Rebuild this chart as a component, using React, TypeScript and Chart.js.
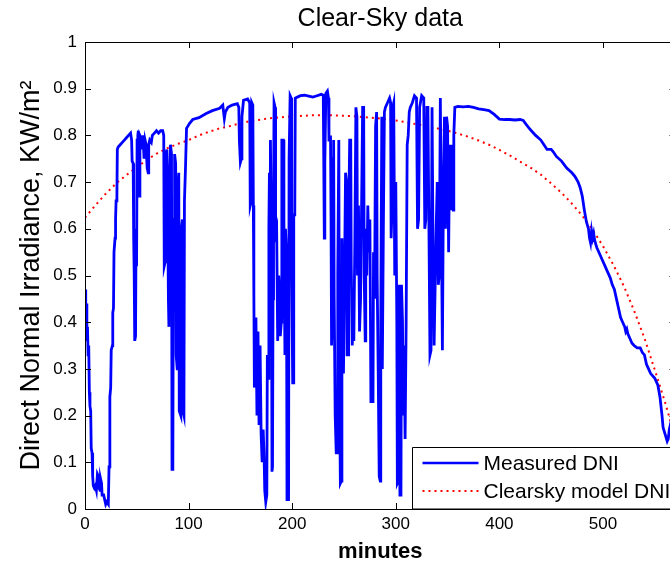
import React, { useEffect, useRef } from 'react';
import { Chart, registerables } from 'chart.js';

Chart.register(...registerables);

const chartTitle = 'Clear-Sky data';
const xAxisLabel = 'minutes';
const yAxisLabel = 'Direct Normal Irradiance, KW/m\u00B2';
const seriesNames = ['Measured DNI', 'Clearsky model DNI'];
const xRange = [0, 570];
const yRange = [0, 1];
const xTickStep = 100;
const yTickStep = 0.1;

const modelMinutes = [0, 10, 20, 30, 40, 50, 60, 70, 80, 90, 100, 110, 120, 130, 140, 150, 160, 170, 180, 190, 200, 210, 220, 230, 240, 250, 260, 270, 280, 290, 300, 310, 320, 330, 340, 350, 360, 370, 380, 390, 400, 410, 420, 430, 440, 450, 460, 470, 480, 490, 500, 510, 520, 530, 540, 550, 560, 570, 580, 590];
const modelValues = [0.624, 0.65, 0.675, 0.697, 0.715, 0.732, 0.748, 0.762, 0.773, 0.782, 0.79, 0.8, 0.808, 0.815, 0.82, 0.826, 0.831, 0.834, 0.837, 0.839, 0.841, 0.842, 0.843, 0.843, 0.843, 0.842, 0.841, 0.839, 0.837, 0.835, 0.832, 0.828, 0.824, 0.82, 0.815, 0.81, 0.804, 0.797, 0.789, 0.78, 0.769, 0.757, 0.744, 0.731, 0.716, 0.697, 0.677, 0.654, 0.628, 0.598, 0.563, 0.523, 0.478, 0.425, 0.366, 0.298, 0.228, 0.15, 0.07, 0.0];

const measuredMinutes = [
  0, 0.7, 1.2, 1.8, 2.4, 3, 3.6, 4.2, 4.8, 5.5, 6, 6.8, 7.4, 8, 9, 10, 11, 12, 13, 13.5, 14.5, 15, 16, 16.5, 18, 19, 20, 21, 22.5, 23.2,
  24, 24.8, 25.3, 26.4, 26.8, 27.5, 28, 29, 29.5, 30, 30.8, 31.2, 32, 34, 36, 38, 40, 42, 44, 45, 45.5, 46.5, 47, 47.5, 48, 48.8, 49.3, 49.8, 50.3, 51,
  51.5, 52.5, 53, 54, 55, 56, 57, 58, 59, 60, 61, 61.5, 62.5, 64, 65, 67, 69, 71, 73, 75, 76, 76.5, 77.5, 78, 79, 80, 80.5, 81, 81.5, 82.5,
  83.5, 84, 84.8, 85.3, 86, 86.5, 87.5, 88, 89, 89.5, 90.5, 91, 92.5, 93, 94, 94.5, 95.5, 96, 97, 98, 101, 104, 110, 117, 123, 130, 133, 134.5, 135.5, 138,
  142, 147, 148.5, 149, 150, 151, 151.5, 153, 157, 159, 159.5, 160.5, 161, 162, 162.5, 163, 163.5, 164.5, 165, 166, 167, 168, 169, 170, 171, 172, 173, 173.5, 174.5, 175.5,
  176, 177, 177.5, 178, 178.5, 179, 180, 180.5, 181, 181.5, 182, 182.5, 183.5, 184, 185, 186, 187, 188, 188.5, 189.5, 190, 191.5, 192, 193, 193.5, 194.5, 195, 196.5, 197, 198,
  199, 199.5, 200.5, 201, 201.5, 202.5, 203, 205, 208, 212, 216, 220, 224, 228, 230, 230.5, 231, 231.5, 232.5, 234, 235, 235.5, 236.5, 237, 237.5, 238, 239, 239.5, 240, 240.5,
  241.5, 242.5, 243.5, 244, 245, 245.5, 246.5, 247.5, 248, 249, 249.5, 250.5, 251.5, 252.5, 253, 254, 254.5, 255.5, 256.5, 257, 258, 259, 259.5, 260.5, 261.5, 262.5, 263, 264, 265, 266,
  267, 268, 269, 269.5, 270.5, 271, 272, 273, 274, 275, 276, 278, 278.5, 279.5, 280.5, 281.5, 282, 283, 284, 285, 285.5, 286.5, 287, 288, 289, 290, 292, 294, 295, 295.5,
  296.5, 297, 298, 299, 300, 301, 301.5, 302.5, 303, 304, 305, 305.5, 306.5, 307, 308, 309, 310, 311, 312, 313, 314, 316, 318, 320, 321, 322, 323, 325, 327, 328,
  329, 330, 331, 332, 333, 334, 335, 336, 337, 338, 339, 340, 341, 342, 343, 344, 345, 346, 347, 348, 349, 350, 351, 352, 353, 354, 355, 355.5, 356, 357,
  360, 365, 370, 375, 380, 385, 390, 395, 400, 405, 410, 415, 420, 423, 426, 430, 435, 440, 443, 446, 450, 452, 455, 460, 465, 470, 473, 476, 478, 480,
  482, 484, 486, 487, 488, 489, 490, 491, 492, 494, 497, 500, 502, 504, 507, 509, 511, 513, 515, 517, 519, 521, 522, 523, 524, 526, 528, 530, 533, 536,
  538, 540, 542, 544, 546, 548, 550, 553, 555, 557, 558, 560, 562, 563, 564, 565, 567, 570
];
const measuredValues = [
  0.47, 0.40, 0.44, 0.36, 0.39, 0.33, 0.35, 0.25, 0.22, 0.21, 0.13, 0.12, 0.07, 0.05, 0.045, 0.05, 0.04, 0.075, 0.07, 0.045, 0.04, 0.065, 0.055, 0.03, 0.03, 0.02, 0.01, 0.015, 0.01, 0.09,
  0.24, 0.26, 0.34, 0.35, 0.42, 0.43, 0.55, 0.58, 0.62, 0.66, 0.67, 0.77, 0.775, 0.78, 0.785, 0.79, 0.795, 0.80, 0.805, 0.79, 0.745, 0.74, 0.58, 0.50, 0.36, 0.37, 0.60, 0.52, 0.79, 0.80,
  0.81, 0.67, 0.80, 0.795, 0.77, 0.80, 0.75, 0.79, 0.78, 0.73, 0.72, 0.78, 0.79, 0.785, 0.80, 0.805, 0.81, 0.805, 0.81, 0.81, 0.80, 0.52, 0.53, 0.75, 0.77, 0.60, 0.45, 0.39, 0.70, 0.78,
  0.76, 0.085, 0.09, 0.55, 0.62, 0.76, 0.74, 0.33, 0.30, 0.68, 0.72, 0.21, 0.20, 0.60, 0.62, 0.21, 0.20, 0.66, 0.73, 0.815, 0.826, 0.834, 0.838, 0.847, 0.853, 0.858, 0.865, 0.836, 0.85, 0.86,
  0.865, 0.868, 0.86, 0.79, 0.742, 0.75, 0.84, 0.875, 0.878, 0.87, 0.65, 0.66, 0.87, 0.865, 0.65, 0.46, 0.26, 0.30, 0.41, 0.20, 0.38, 0.18, 0.35, 0.16, 0.10, 0.17, 0.10, 0.04, 0.015, 0.03,
  0.33, 0.28, 0.60, 0.72, 0.40, 0.79, 0.55, 0.08, 0.09, 0.45, 0.65, 0.87, 0.86, 0.59, 0.60, 0.36, 0.50, 0.46, 0.37, 0.40, 0.79, 0.79, 0.62, 0.33, 0.60, 0.55, 0.02, 0.02, 0.75, 0.885,
  0.88, 0.50, 0.27, 0.27, 0.63, 0.63, 0.88, 0.882, 0.885, 0.886, 0.884, 0.882, 0.885, 0.888, 0.886, 0.74, 0.58, 0.74, 0.89, 0.895, 0.88, 0.79, 0.79, 0.80, 0.62, 0.35, 0.46, 0.75, 0.79, 0.46,
  0.20, 0.12, 0.12, 0.50, 0.79, 0.30, 0.055, 0.06, 0.58, 0.36, 0.29, 0.50, 0.72, 0.70, 0.33, 0.33, 0.62, 0.79, 0.79, 0.52, 0.35, 0.45, 0.36, 0.58, 0.86, 0.84, 0.50, 0.65, 0.38, 0.45,
  0.65, 0.86, 0.86, 0.50, 0.36, 0.60, 0.50, 0.65, 0.55, 0.62, 0.23, 0.23, 0.55, 0.45, 0.82, 0.85, 0.50, 0.30, 0.07, 0.06, 0.40, 0.84, 0.30, 0.60, 0.85, 0.86, 0.87, 0.88, 0.87, 0.58,
  0.65, 0.86, 0.87, 0.50, 0.70, 0.40, 0.055, 0.06, 0.48, 0.03, 0.03, 0.48, 0.40, 0.20, 0.35, 0.15, 0.40, 0.78, 0.80, 0.85, 0.86, 0.87, 0.885, 0.88, 0.60, 0.62, 0.86, 0.885, 0.88, 0.60,
  0.62, 0.86, 0.86, 0.60, 0.33, 0.34, 0.86, 0.55, 0.35, 0.48, 0.60, 0.70, 0.48, 0.50, 0.88, 0.60, 0.34, 0.70, 0.84, 0.60, 0.84, 0.82, 0.55, 0.78, 0.64, 0.78, 0.65, 0.64, 0.80, 0.86,
  0.862, 0.861, 0.862, 0.86, 0.857, 0.855, 0.853, 0.845, 0.835, 0.834, 0.834, 0.833, 0.834, 0.832, 0.823, 0.812, 0.80, 0.79, 0.78, 0.77, 0.77, 0.765, 0.755, 0.745, 0.73, 0.72, 0.712, 0.70, 0.688, 0.67,
  0.64, 0.615, 0.60, 0.58, 0.57, 0.595, 0.58, 0.59, 0.575, 0.56, 0.545, 0.53, 0.52, 0.51, 0.495, 0.48, 0.47, 0.45, 0.43, 0.41, 0.40, 0.39, 0.38, 0.385, 0.375, 0.365, 0.355, 0.35, 0.345, 0.345,
  0.335, 0.33, 0.31, 0.30, 0.29, 0.285, 0.28, 0.265, 0.24, 0.20, 0.175, 0.16, 0.145, 0.15, 0.17, 0.18, 0.15, 0.12
];

const FONT = '"Liberation Sans", Arial, Helvetica, sans-serif';
const CANVAS_W = 700;
const CANVAS_H = 567;

const matlabFrame = {
  id: 'matlabFrame',
  afterDatasetsDraw(chart: any) {
    const { ctx, chartArea, scales } = chart;
    const { left, right, top, bottom } = chartArea;
    ctx.save();
    ctx.strokeStyle = '#000';
    ctx.lineWidth = 1;
    ctx.beginPath();
    ctx.rect(Math.round(left) + 0.5, Math.round(top) + 0.5, Math.round(right - left), Math.round(bottom - top));
    ctx.stroke();
    const tl = 6;
    ctx.beginPath();
    scales.x.ticks.forEach((t: any) => {
      const px = Math.round(scales.x.getPixelForValue(t.value)) + 0.5;
      ctx.moveTo(px, bottom);
      ctx.lineTo(px, bottom - tl);
      ctx.moveTo(px, top);
      ctx.lineTo(px, top + tl);
    });
    scales.y.ticks.forEach((t: any) => {
      const py = Math.round(scales.y.getPixelForValue(t.value)) + 0.5;
      ctx.moveTo(left, py);
      ctx.lineTo(left + tl, py);
      ctx.moveTo(right, py);
      ctx.lineTo(right - tl, py);
    });
    ctx.stroke();

    // legend (SouthEast)
    const lgLeft = Math.round(left + (right - left) * 0.554) + 0.5;
    const lgTop = Math.round(bottom - 62) + 0.5;
    const lgRight = right + 10;
    ctx.fillStyle = '#fff';
    ctx.fillRect(lgLeft, lgTop, lgRight - lgLeft, bottom - lgTop);
    ctx.beginPath();
    ctx.rect(lgLeft, lgTop, lgRight - lgLeft, bottom - lgTop);
    ctx.stroke();
    const sx0 = lgLeft + 10;
    const sx1 = lgLeft + 66;
    const row1 = lgTop + 15.5;
    const row2 = lgTop + 43.5;
    ctx.strokeStyle = '#0000ff';
    ctx.lineWidth = 2.6;
    ctx.beginPath();
    ctx.moveTo(sx0, row1);
    ctx.lineTo(sx1, row1);
    ctx.stroke();
    ctx.strokeStyle = '#ff0000';
    ctx.lineWidth = 2;
    ctx.setLineDash([2, 4]);
    ctx.beginPath();
    ctx.moveTo(sx0, row2);
    ctx.lineTo(sx1, row2);
    ctx.stroke();
    ctx.setLineDash([]);
    ctx.fillStyle = '#000';
    ctx.font = '21px ' + FONT;
    ctx.textBaseline = 'middle';
    ctx.textAlign = 'left';
    ctx.fillText(seriesNames[0], sx1 + 5, row1 + 1);
    ctx.fillText(seriesNames[1], sx1 + 5, row2 + 1);

    // title
    ctx.font = '25px ' + FONT;
    ctx.textAlign = 'center';
    ctx.textBaseline = 'alphabetic';
    ctx.fillText(chartTitle, (left + right) / 2, top - 16);
    ctx.restore();
  },
};

export default function App() {
  const ref = useRef<HTMLCanvasElement | null>(null);
  useEffect(() => {
    if (!ref.current) return;
    const measured = measuredMinutes.map((m, i) => ({ x: m, y: measuredValues[i] }));
    const model = modelMinutes.map((m, i) => ({ x: m, y: modelValues[i] }));
    const chart = new Chart(ref.current, {
      type: 'line',
      data: {
        datasets: [
          {
            label: seriesNames[0],
            data: measured,
            borderColor: '#0000ff',
            backgroundColor: '#0000ff',
            borderWidth: 2.8,
            pointRadius: 0,
            tension: 0,
            fill: false,
          },
          {
            label: seriesNames[1],
            data: model,
            borderColor: '#ff0000',
            backgroundColor: '#ff0000',
            borderWidth: 2,
            borderDash: [2, 4],
            pointRadius: 0,
            tension: 0,
            fill: false,
          },
        ],
      },
      options: {
        responsive: false,
        animation: false,
        devicePixelRatio: 1,
        layout: { padding: { top: 42, right: CANVAS_W - 675.5, bottom: 0, left: 0 } },
        plugins: {
          legend: { display: false },
          title: { display: false },
          tooltip: { enabled: false },
        },
        scales: {
          x: {
            type: 'linear',
            min: xRange[0],
            max: xRange[1],
            grid: { display: false, drawTicks: false },
            border: { display: false },
            ticks: {
              stepSize: xTickStep,
              includeBounds: false,
              maxRotation: 0,
              padding: 5,
              color: '#000',
              font: { family: FONT, size: 17 },
            },
            title: {
              display: true,
              text: xAxisLabel,
              color: '#000',
              font: { family: FONT, size: 22, weight: 'bold' },
              padding: { top: 0, bottom: 2 },
            },
            afterFit: (s: any) => { s.height = 58; },
          },
          y: {
            type: 'linear',
            min: yRange[0],
            max: yRange[1],
            grid: { display: false, drawTicks: false },
            border: { display: false },
            ticks: {
              stepSize: yTickStep,
              padding: 8,
              color: '#000',
              font: { family: FONT, size: 17 },
              callback: (v: any) => String(Math.round(Number(v) * 10) / 10),
            },
            title: {
              display: true,
              text: yAxisLabel,
              color: '#000',
              font: { family: FONT, size: 27 },
              padding: { top: 15, bottom: 0 },
            },
            afterFit: (s: any) => { s.width = 85; },
          },
        },
      },
      plugins: [matlabFrame],
    } as any);
    return () => chart.destroy();
  }, []);
  return (
    <div style={{ position: 'fixed', left: 0, top: 0, width: CANVAS_W, height: CANVAS_H, background: '#fff' }}>
      <canvas ref={ref} width={CANVAS_W} height={CANVAS_H} style={{ display: 'block', width: CANVAS_W, height: CANVAS_H }} />
    </div>
  );
}
